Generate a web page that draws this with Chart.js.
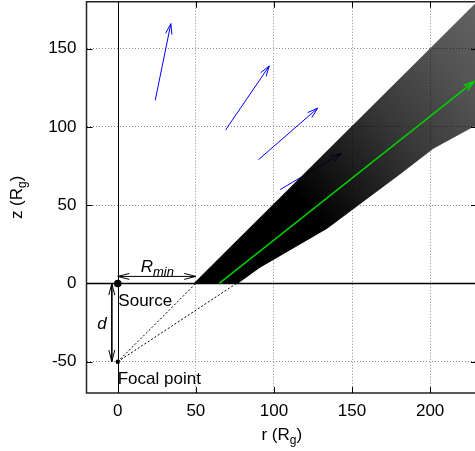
<!DOCTYPE html>
<html><head><meta charset="utf-8">
<script src="https://cdn.jsdelivr.net/npm/chart.js@4.4.0/dist/chart.umd.min.js"></script>
<style>
html,body{margin:0;padding:0;overflow:hidden;background:#fff}
#wrap{position:relative;width:475px;height:451px}
</style></head>
<body>
<div id="wrap"><canvas id="c"></canvas></div>
<script>
// ---------- data ----------
const xTicks = [0, 50, 100, 150, 200];
const yTicks = [-50, 0, 50, 100, 150];
const xRange = [-20, 230];
const yRange = [-70, 180];

// outline of the particle cloud (r, z)
const cloudR = [48.5, 233, 233, 202, 181, 134, 91, 77, 48.5];
const cloudZ = [0, 183, 103, 86, 70, 35, 10, 0, 0];

// mean direction (green arrow)
const axisR = [65, 228];
const axisZ = [0, 129];

// blue velocity arrows: start -> end
const velR0 = [24, 69, 90, 104];
const velZ0 = [117, 98, 79, 60];
const velR1 = [34, 97, 128, 143];
const velZ1 = [166, 139, 112, 83];

// dashed rays from the focal point to the disc
const focalR = 0, focalZ = -50;
const sourceR = 0, sourceZ = 0;
const rayEndR = [50, 76];
const rayEndZ = [0, 0];

// dimension arrows
const rminR = [0, 50], rminZ = [4.5, 4.5];
const dR = [-3.8, -3.8], dZ = [0, -50];

// text notes
const noteText = ['Source', 'Focal point', 'd'];
const noteR = [0.4, 0, -13.1];
const noteZ = [-14.2, -64.3, -28.8];
const noteItalic = [false, false, true];
const rminLabelR = 14.7, rminLabelZ = 7.0;

const FAMILY = '"Liberation Sans", Arial, Helvetica, sans-serif';
// plot frame in page pixels (right edge lies just past the window)
const FRAME = {left: 86.5, top: 1.75, right: 477, bottom: 393};

// ---------- datasets ----------
const pts = (rs, zs) => rs.map((r, i) => ({x: r, y: zs[i]}));
const datasets = [];

velR0.forEach((r, i) => {
  datasets.push({
    type: 'line', data: pts([r, velR1[i]], [velZ0[i], velZ1[i]]),
    borderColor: '#0000ff', borderWidth: 1, pointRadius: 0, fill: false,
    arrow: 'end', order: 6
  });
});

rayEndR.forEach((r, i) => {
  datasets.push({
    type: 'line', data: pts([focalR, r], [focalZ, rayEndZ[i]]),
    borderColor: '#000', borderWidth: 1, borderDash: [2, 2], pointRadius: 0, fill: false,
    order: 5
  });
});

datasets.push({
  type: 'line', data: pts(cloudR, cloudZ),
  borderColor: 'rgba(0,0,0,0)', borderWidth: 0, pointRadius: 0, fill: 'shape',
  backgroundColor: (c) => {
    const ch = c.chart;
    if (!ch.chartArea || !ch.scales.x) return 'rgba(0,0,0,0.8)';
    const fx = ch.scales.x.getPixelForValue(focalR);
    const fy = ch.scales.y.getPixelForValue(focalZ);
    const g = ch.ctx.createRadialGradient(fx, fy, 0, fx, fy, 520);
    g.addColorStop(0, 'rgba(0,0,0,1)');
    g.addColorStop(0.47, 'rgba(0,0,0,1)');
    g.addColorStop(0.57, 'rgba(0,0,0,0.9)');
    g.addColorStop(0.7, 'rgba(0,0,0,0.78)');
    g.addColorStop(0.86, 'rgba(0,0,0,0.67)');
    g.addColorStop(1, 'rgba(0,0,0,0.6)');
    return g;
  },
  order: 4
});

datasets.push({
  type: 'line', data: pts(axisR, axisZ),
  borderColor: '#00d000', borderWidth: 1.5, pointRadius: 0, fill: false,
  arrow: 'end', order: 3
});

datasets.push({
  type: 'line', data: pts(rminR, rminZ),
  borderColor: '#000', borderWidth: 1, pointRadius: 0, fill: false,
  arrow: 'both', order: 2
});
datasets.push({
  type: 'line', data: pts(dR, dZ),
  borderColor: '#000', borderWidth: 1, pointRadius: 0, fill: false,
  arrow: 'both', order: 2
});

datasets.push({
  type: 'line', data: pts([sourceR, focalR], [sourceZ, focalZ]),
  showLine: false, pointRadius: [3.8, 2.2], pointBackgroundColor: '#000',
  pointBorderWidth: 0, pointBorderColor: '#000', order: 1
});

// ---------- helpers ----------
function head(ctx, x0, y0, x1, y1, len, ang) {
  const a = Math.atan2(y1 - y0, x1 - x0);
  ctx.beginPath();
  ctx.moveTo(x1 - len * Math.cos(a - ang), y1 - len * Math.sin(a - ang));
  ctx.lineTo(x1, y1);
  ctx.lineTo(x1 - len * Math.cos(a + ang), y1 - len * Math.sin(a + ang));
  ctx.stroke();
}

function drawParts(ctx, parts, x, y, align) {
  let total = 0;
  parts.forEach(p => { ctx.font = p.font; p.w = ctx.measureText(p.t).width; total += p.w; });
  let cx = align === 'center' ? x - total / 2 : x;
  ctx.textAlign = 'left';
  ctx.textBaseline = 'alphabetic';
  parts.forEach(p => { ctx.font = p.font; ctx.fillText(p.t, cx, y + (p.dy || 0)); cx += p.w; });
}

const deco = {
  id: 'deco',
  afterLayout(ch) {
    const ca = ch.chartArea;
    ca.left = FRAME.left; ca.right = FRAME.right; ca.top = FRAME.top; ca.bottom = FRAME.bottom;
    ca.width = ca.right - ca.left; ca.height = ca.bottom - ca.top;
    const x = ch.scales.x, y = ch.scales.y;
    x.left = ca.left; x.right = ca.right; x.width = ca.width;
    x.top = ca.bottom; x.bottom = ch.height; x.height = ch.height - ca.bottom;
    x.configure();
    y.left = 0; y.right = ca.left; y.width = ca.left;
    y.top = ca.top; y.bottom = ca.bottom; y.height = ca.height;
    y.configure();
  },
  beforeDatasetsDraw(ch) {
    const {ctx, chartArea: ca, scales: {x, y}} = ch;
    ctx.save();
    ctx.strokeStyle = '#000';
    ctx.setLineDash([]);
    ctx.lineWidth = 1;
    const x0 = Math.round(x.getPixelForValue(0)) + 0.5;
    ctx.beginPath(); ctx.moveTo(x0, ca.top); ctx.lineTo(x0, ca.bottom); ctx.stroke();
    ctx.lineWidth = 1.5;
    const y0 = y.getPixelForValue(0);
    ctx.beginPath(); ctx.moveTo(ca.left, y0); ctx.lineTo(ca.right, y0); ctx.stroke();
    ctx.restore();
  },
  afterDatasetDraw(ch, args) {
    const d = ch.data.datasets[args.index];
    if (!d.arrow) return;
    const {ctx, scales: {x, y}} = ch;
    const p = d.data;
    const a = {x: x.getPixelForValue(p[0].x), y: y.getPixelForValue(p[0].y)};
    const b = {x: x.getPixelForValue(p[p.length - 1].x), y: y.getPixelForValue(p[p.length - 1].y)};
    ctx.save();
    ctx.strokeStyle = d.borderColor;
    ctx.lineWidth = d.borderWidth;
    ctx.setLineDash([]);
    const len = d.arrow === 'both' ? 12 : 11;
    const ang = d.arrow === 'both' ? 0.25 : 0.3;
    head(ctx, a.x, a.y, b.x, b.y, len, ang);
    if (d.arrow === 'both') head(ctx, b.x, b.y, a.x, a.y, len, ang);
    ctx.restore();
  },
  afterDatasetsDraw(ch) {
    const {ctx, chartArea: ca, scales: {x, y}} = ch;
    ctx.save();
    ctx.fillStyle = '#000';
    noteText.forEach((t, i) => {
      const font = (noteItalic[i] ? 'italic ' : '') + '17px ' + FAMILY;
      drawParts(ctx, [{t, font}], x.getPixelForValue(noteR[i]), y.getPixelForValue(noteZ[i]), 'left');
    });
    drawParts(ctx, [
      {t: 'R', font: 'italic 17px ' + FAMILY},
      {t: 'min', font: 'italic 13px ' + FAMILY, dy: 4}
    ], x.getPixelForValue(rminLabelR), y.getPixelForValue(rminLabelZ), 'left');

    // frame
    ctx.strokeStyle = '#222';
    ctx.lineWidth = 1.5;
    ctx.setLineDash([]);
    ctx.strokeRect(ca.left, ca.top, ca.right - ca.left, ca.bottom - ca.top);
    // inward tick marks
    ctx.lineWidth = 1;
    ctx.strokeStyle = '#000';
    const tl = 6;
    xTicks.forEach(v => {
      const px = Math.round(x.getPixelForValue(v)) + 0.5;
      ctx.beginPath();
      ctx.moveTo(px, ca.bottom); ctx.lineTo(px, ca.bottom - tl);
      ctx.moveTo(px, ca.top); ctx.lineTo(px, ca.top + tl);
      ctx.stroke();
    });
    yTicks.forEach(v => {
      const py = Math.round(y.getPixelForValue(v)) + 0.5;
      ctx.beginPath();
      ctx.moveTo(ca.left, py); ctx.lineTo(ca.left + tl, py);
      ctx.moveTo(ca.right, py); ctx.lineTo(ca.right - tl, py);
      ctx.stroke();
    });
    ctx.restore();
  },
  afterDraw(ch) {
    const {ctx, chartArea: ca} = ch;
    ctx.save();
    ctx.fillStyle = '#000';
    const cx = (ca.left + ca.right) / 2;
    drawParts(ctx, [
      {t: 'r (R', font: '17px ' + FAMILY},
      {t: 'g', font: '12px ' + FAMILY, dy: 4},
      {t: ')', font: '17px ' + FAMILY}
    ], cx, 440, 'center');
    ctx.translate(21.5, (ca.top + ca.bottom) / 2);
    ctx.rotate(-Math.PI / 2);
    drawParts(ctx, [
      {t: 'z (R', font: '17px ' + FAMILY},
      {t: 'g', font: '12px ' + FAMILY, dy: 4},
      {t: ')', font: '17px ' + FAMILY}
    ], 0, 0, 'center');
    ctx.restore();
  }
};

const gridColor = (c) => (c.tick && c.tick.value === 0) ? 'rgba(0,0,0,0)' : '#8a8a8a';

new Chart(document.getElementById('c'), {
  type: 'line',
  data: {datasets},
  plugins: [deco],
  options: {
    responsive: true,
    maintainAspectRatio: false,
    animation: false,
    devicePixelRatio: 1,
    layout: {padding: {top: 2, right: 0, left: 0, bottom: 0}},
    plugins: {legend: {display: false}, tooltip: {enabled: false}},
    elements: {line: {tension: 0}},
    scales: {
      x: {
        type: 'linear', min: xRange[0], max: xRange[1],
        afterBuildTicks: (s) => { s.ticks = xTicks.map(v => ({value: v})); },
        afterFit: (s) => { s.height = 58; s.paddingLeft = 0; s.paddingRight = 0; },
        grid: {color: gridColor, drawTicks: false, lineWidth: 1},
        border: {display: false, dash: [1, 2]},
        ticks: {padding: 8, color: '#000', font: {family: FAMILY, size: 17}}
      },
      y: {
        type: 'linear', min: yRange[0], max: yRange[1],
        afterBuildTicks: (s) => { s.ticks = yTicks.map(v => ({value: v})); },
        afterFit: (s) => { s.width = 86; s.paddingTop = 0; s.paddingBottom = 0; },
        grid: {color: gridColor, drawTicks: false, lineWidth: 1},
        border: {display: false, dash: [1, 2]},
        ticks: {padding: 10, color: '#000', font: {family: FAMILY, size: 17}}
      }
    }
  }
});
</script>
</body></html>
